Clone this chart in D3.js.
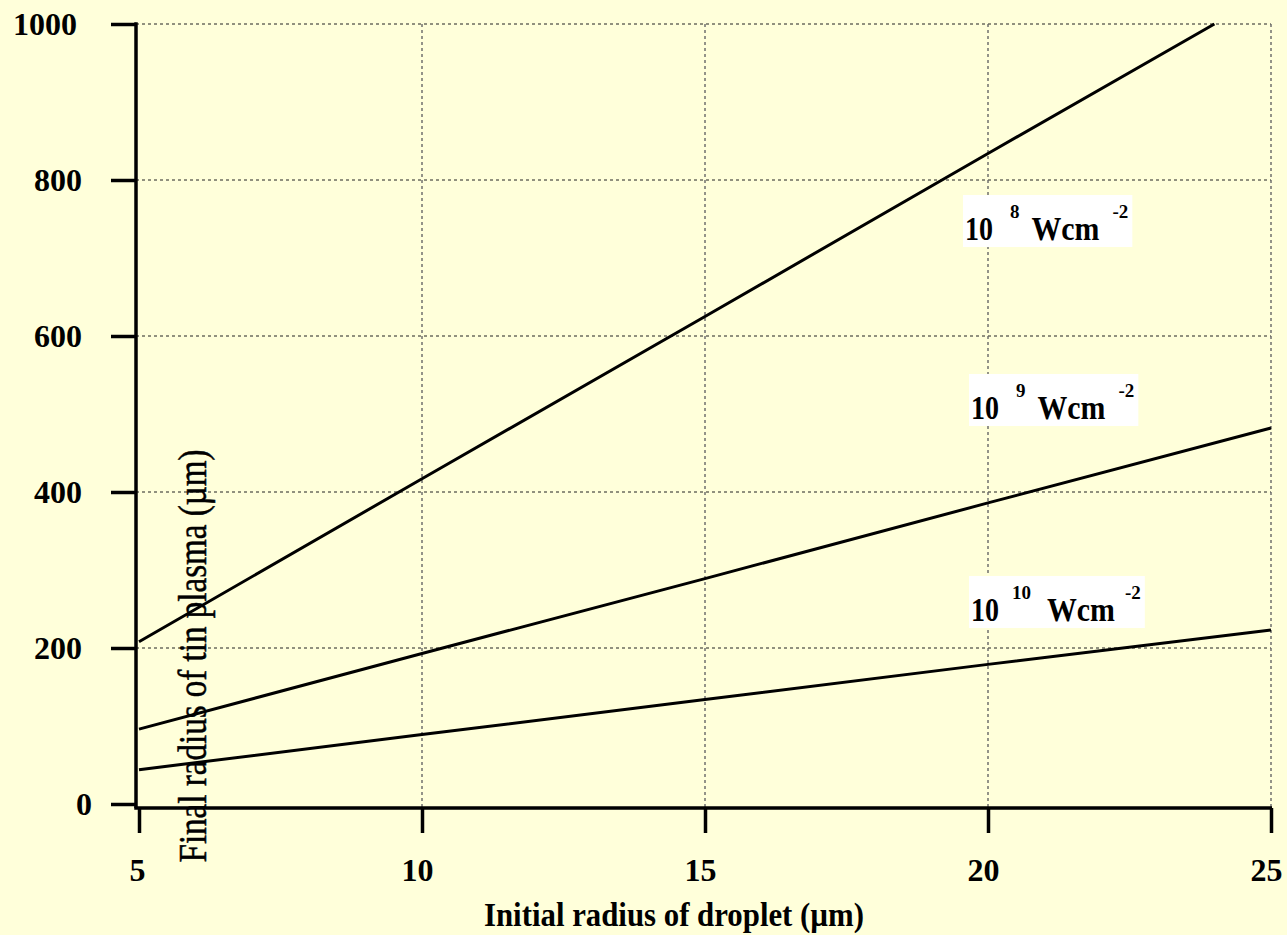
<!DOCTYPE html>
<html>
<head>
<meta charset="utf-8">
<script src="https://cdn.jsdelivr.net/npm/d3@7"></script>
<style>
  html, body { margin: 0; padding: 0; background: #FFFFDA; }
  svg { display: block; }
  text { font-family: "Liberation Serif", "Times New Roman", serif; fill: #000; }
</style>
</head>
<body>
<svg id="chart" width="1287" height="935"></svg>
<script>
// ---- data ----
const xTicks = [5, 10, 15, 20, 25];
const yTicks = [0, 200, 400, 600, 800, 1000];

// initial droplet radius (µm) vs final plasma radius (µm), per laser intensity
const radius8  = [5, 10, 15, 20, 24];
const plasma8  = [208, 417, 625, 834, 1000];
const radius9  = [5, 10, 15, 20, 25];
const plasma9  = [96, 193, 289, 386, 482];
const radius10 = [5, 10, 15, 20, 25];
const plasma10 = [44, 89, 134, 179, 223];

const intensityBase = ["10", "10", "10"];
const intensityExp  = ["8", "9", "10"];
const unitText = "Wcm";
const unitExp = "-2";

const xTitle = "Initial radius of droplet (µm)";
const yTitle = "Final radius of tin plasma (µm)";

// ---- layout ----
const svg = d3.select("#chart");
const x = d3.scaleLinear().domain([5, 25]).range([139, 1271]);
const y = d3.scaleLinear().domain([0, 1000]).range([804, 24]);
const axisX = 136;     // y-axis line position
const axisY = 808;     // x-axis line position
const tickLen = 25;
const axisWidth = 3.5;

// grid
const grid = svg.append("g");
grid.selectAll("line.h").data(yTicks.filter(d => d > 0)).join("line")
  .attr("x1", axisX).attr("x2", x(25))
  .attr("y1", d => y(d)).attr("y2", d => y(d))
  .attr("stroke", "#222").attr("stroke-width", 1)
  .attr("stroke-dasharray", "3,3");
grid.selectAll("line.v").data(xTicks.filter(d => d > 5)).join("line")
  .attr("x1", d => x(d)).attr("x2", d => x(d))
  .attr("y1", y(1000)).attr("y2", axisY)
  .attr("stroke", "#666").attr("stroke-width", 1.4)
  .attr("stroke-dasharray", "3,3");

// series lines
const series = [
  { r: radius8, v: plasma8 },
  { r: radius9, v: plasma9 },
  { r: radius10, v: plasma10 }
];
const line = d3.line().x(d => x(d[0])).y(d => y(d[1]));
svg.append("g").selectAll("path").data(series).join("path")
  .attr("d", s => line(s.r.map((r, i) => [r, s.v[i]])))
  .attr("fill", "none").attr("stroke", "#000")
  .attr("stroke-width", 3).attr("stroke-linejoin", "round");

// y axis
const yAxis = svg.append("g").attr("transform", `translate(${axisX},0)`)
  .call(d3.axisLeft(y).tickValues(yTicks).tickFormat(d3.format("d"))
    .tickSize(tickLen).tickSizeOuter(0).tickPadding(14));
yAxis.select(".domain").remove();
yAxis.selectAll(".tick line").attr("stroke", "#000").attr("stroke-width", axisWidth);
yAxis.selectAll(".tick text")
  .attr("font-size", 32).attr("font-weight", "bold")
  .attr("font-family", "Liberation Serif, serif")
  .attr("dy", "0.34em")
  .attr("x", d => -tickLen - 14 - 5 * String(d).length);
svg.append("line")
  .attr("x1", axisX).attr("x2", axisX)
  .attr("y1", y(1000) - axisWidth / 2).attr("y2", axisY)
  .attr("stroke", "#000").attr("stroke-width", axisWidth);

// x axis
const xAxis = svg.append("g").attr("transform", `translate(0,${axisY})`)
  .call(d3.axisBottom(x).tickValues(xTicks).tickFormat(d3.format("d"))
    .tickSize(tickLen).tickSizeOuter(0).tickPadding(25));
xAxis.select(".domain").remove();
xAxis.selectAll(".tick line").attr("stroke", "#000").attr("stroke-width", axisWidth);
xAxis.selectAll(".tick text")
  .attr("font-size", 32).attr("font-weight", "bold")
  .attr("font-family", "Liberation Serif, serif")
  .attr("dy", "0.71em")
  .attr("x", d => String(d).length > 1 ? -5 : -2);
svg.append("line")
  .attr("x1", axisX - axisWidth / 2).attr("x2", x(25) + 1)
  .attr("y1", axisY).attr("y2", axisY)
  .attr("stroke", "#000").attr("stroke-width", axisWidth);

// axis titles
svg.append("text")
  .attr("x", 674).attr("y", 926)
  .attr("text-anchor", "middle")
  .attr("font-size", 33).attr("font-weight", "bold")
  .attr("textLength", 380).attr("lengthAdjust", "spacingAndGlyphs")
  .text(xTitle);
svg.append("text")
  .attr("transform", "translate(206,656) rotate(-90)")
  .attr("text-anchor", "middle")
  .attr("font-size", 39)
  .attr("stroke", "#000").attr("stroke-width", 0.5)
  .attr("textLength", 413).attr("lengthAdjust", "spacingAndGlyphs")
  .text(yTitle);

// intensity labels on white boxes
const labelPos = [
  { x: 965, y: 240, gaps: [17, 12, 13] },
  { x: 971, y: 419, gaps: [17, 12, 13] },
  { x: 971, y: 621, gaps: [13, 16, 10] }
];
intensityBase.forEach((b, i) => {
  const p = labelPos[i];
  const g = svg.append("g");
  const rect = g.append("rect").attr("fill", "#fff");
  const t = g.append("text")
    .attr("x", p.x).attr("y", p.y)
    .attr("font-weight", "bold").attr("font-size", 34);
  t.append("tspan").attr("textLength", 28).attr("lengthAdjust", "spacingAndGlyphs").text(b);
  t.append("tspan").attr("dx", p.gaps[0]).attr("dy", -22).attr("font-size", 19).text(intensityExp[i]);
  t.append("tspan").attr("dx", p.gaps[1]).attr("dy", 22)
    .attr("textLength", 68).attr("lengthAdjust", "spacingAndGlyphs").text(unitText);
  t.append("tspan").attr("dx", p.gaps[2]).attr("dy", -22).attr("font-size", 19).text(unitExp);
  const bb = t.node().getBBox();
  rect.attr("x", p.x - 2).attr("y", p.y - 45)
    .attr("width", bb.x + bb.width + 4 - (p.x - 2)).attr("height", 52);
});
</script>
</body>
</html>
